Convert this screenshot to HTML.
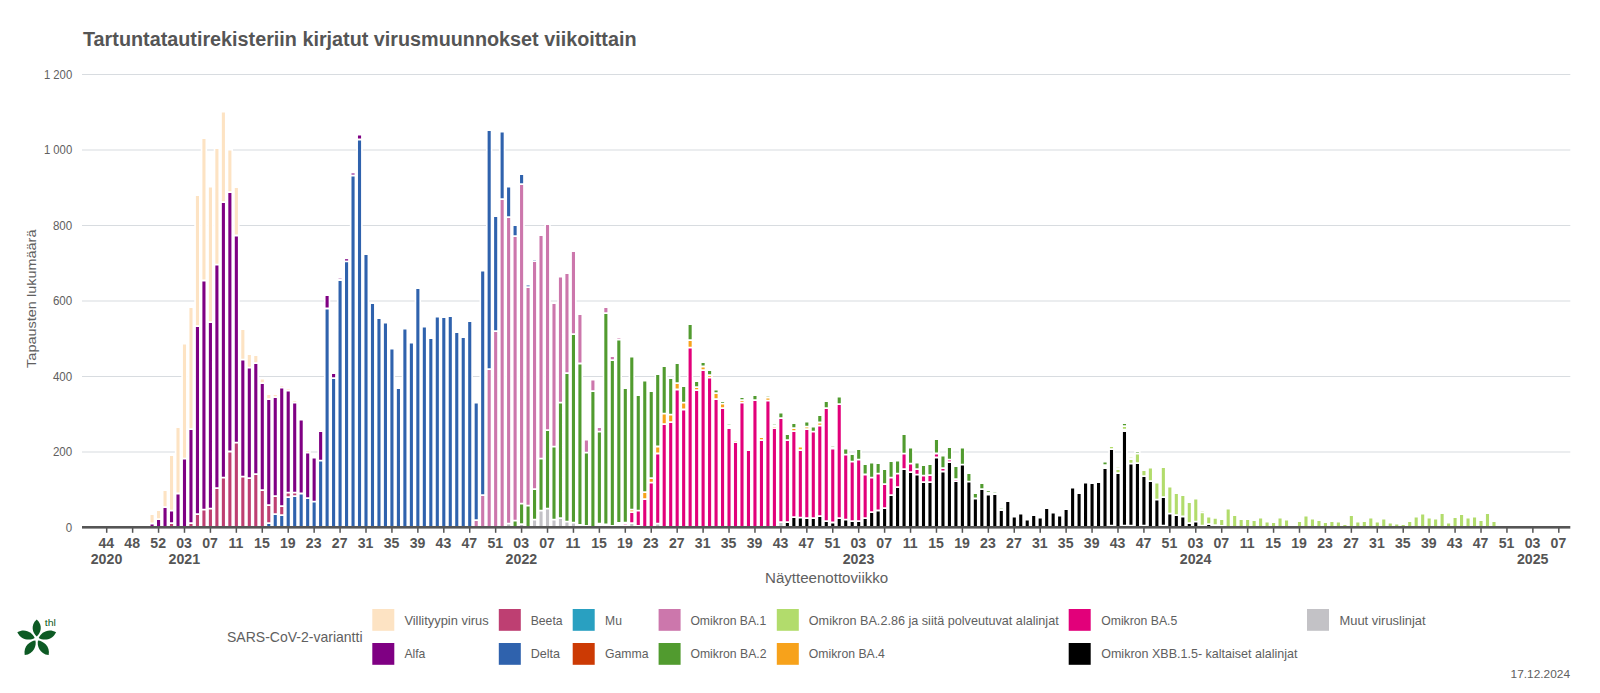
<!DOCTYPE html><html lang="fi"><head><meta charset="utf-8"><title>Tartuntatautirekisteriin kirjatut virusmuunnokset viikoittain</title>
<style>html,body{margin:0;padding:0;background:#fff}body{width:1600px;height:693px;overflow:hidden}svg{display:block}text{font-family:"Liberation Sans",sans-serif}</style></head><body>
<svg width="1600" height="693" viewBox="0 0 1600 693">
<rect width="1600" height="693" fill="#fff"/>
<rect x="82" y="74.00" width="1488.3" height="1" fill="#d8dce0"/>
<text x="43.9" y="78.7" font-size="12.4" fill="#606060" textLength="28.3" lengthAdjust="spacingAndGlyphs">1 200</text>
<rect x="82" y="149.50" width="1488.3" height="1" fill="#d8dce0"/>
<text x="43.9" y="154.2" font-size="12.4" fill="#606060" textLength="28.3" lengthAdjust="spacingAndGlyphs">1 000</text>
<rect x="82" y="225.00" width="1488.3" height="1" fill="#d8dce0"/>
<text x="52.9" y="229.7" font-size="12.4" fill="#606060" textLength="19.3" lengthAdjust="spacingAndGlyphs">800</text>
<rect x="82" y="300.50" width="1488.3" height="1" fill="#d8dce0"/>
<text x="52.9" y="305.2" font-size="12.4" fill="#606060" textLength="19.3" lengthAdjust="spacingAndGlyphs">600</text>
<rect x="82" y="376.00" width="1488.3" height="1" fill="#d8dce0"/>
<text x="52.9" y="380.7" font-size="12.4" fill="#606060" textLength="19.3" lengthAdjust="spacingAndGlyphs">400</text>
<rect x="82" y="451.50" width="1488.3" height="1" fill="#d8dce0"/>
<text x="52.9" y="456.2" font-size="12.4" fill="#606060" textLength="19.3" lengthAdjust="spacingAndGlyphs">200</text>
<text x="65.8" y="531.7" font-size="12.4" fill="#606060" textLength="6.4" lengthAdjust="spacingAndGlyphs">0</text>
<path fill="#fff" d="M148.88,513.3h6.4V527h-6.4zM155.36,509.3h6.4V527h-6.4zM161.84,489.3h6.4V527h-6.4zM168.33,454.3h6.4V527h-6.4zM174.81,426.3h6.4V527h-6.4zM181.29,342.9h6.4V527h-6.4zM187.77,306.3h6.4V527h-6.4zM194.26,194.3h6.4V527h-6.4zM200.74,137.3h6.4V527h-6.4zM207.22,185.7h6.4V527h-6.4zM213.70,147.3h6.4V527h-6.4zM220.19,110.8h6.4V527h-6.4zM226.67,148.9h6.4V527h-6.4zM233.15,186.3h6.4V527h-6.4zM239.63,328.3h6.4V527h-6.4zM246.12,353.3h6.4V527h-6.4zM252.60,354.3h6.4V527h-6.4zM259.08,377.9h6.4V527h-6.4zM265.56,393.3h6.4V527h-6.4zM272.05,393.3h6.4V527h-6.4zM278.53,384.3h6.4V527h-6.4zM285.01,387.3h6.4V527h-6.4zM291.50,399.3h6.4V527h-6.4zM297.98,418.9h6.4V527h-6.4zM304.46,449.3h6.4V527h-6.4zM310.94,456.7h6.4V527h-6.4zM317.43,428.3h6.4V527h-6.4zM323.91,294.3h6.4V527h-6.4zM330.39,372.3h6.4V527h-6.4zM336.87,276.7h6.4V527h-6.4zM343.36,257.6h6.4V527h-6.4zM349.84,171.9h6.4V527h-6.4zM356.32,133.9h6.4V527h-6.4zM362.80,253.3h6.4V527h-6.4zM369.29,302.3h6.4V527h-6.4zM375.77,317.3h6.4V527h-6.4zM382.25,321.9h6.4V527h-6.4zM388.73,347.9h6.4V527h-6.4zM395.22,387.3h6.4V527h-6.4zM401.70,327.7h6.4V527h-6.4zM408.18,341.9h6.4V527h-6.4zM414.66,287.3h6.4V527h-6.4zM421.15,325.7h6.4V527h-6.4zM427.63,337.3h6.4V527h-6.4zM434.11,315.9h6.4V527h-6.4zM440.60,316.3h6.4V527h-6.4zM447.08,315.3h6.4V527h-6.4zM453.56,331.3h6.4V527h-6.4zM460.04,336.3h6.4V527h-6.4zM466.53,320.3h6.4V527h-6.4zM473.01,401.9h6.4V527h-6.4zM479.49,269.7h6.4V527h-6.4zM485.97,129.3h6.4V527h-6.4zM492.46,215.3h6.4V527h-6.4zM498.94,130.9h6.4V527h-6.4zM505.42,185.9h6.4V527h-6.4zM511.90,224.3h6.4V527h-6.4zM518.39,173.3h6.4V527h-6.4zM524.87,283.9h6.4V527h-6.4zM531.35,258.3h6.4V527h-6.4zM537.83,234.3h6.4V527h-6.4zM544.32,223.3h6.4V527h-6.4zM550.80,302.3h6.4V527h-6.4zM557.28,275.7h6.4V527h-6.4zM563.76,272.3h6.4V527h-6.4zM570.25,250.3h6.4V527h-6.4zM576.73,313.3h6.4V527h-6.4zM583.21,438.9h6.4V527h-6.4zM589.70,378.7h6.4V527h-6.4zM596.18,426.3h6.4V527h-6.4zM602.66,306.3h6.4V527h-6.4zM609.14,355.3h6.4V527h-6.4zM615.63,336.3h6.4V527h-6.4zM622.11,387.3h6.4V527h-6.4zM628.59,355.7h6.4V527h-6.4zM635.07,394.3h6.4V527h-6.4zM641.56,379.7h6.4V527h-6.4zM648.04,390.3h6.4V527h-6.4zM654.52,373.3h6.4V527h-6.4zM661.00,365.3h6.4V527h-6.4zM667.49,377.3h6.4V527h-6.4zM673.97,362.3h6.4V527h-6.4zM680.45,385.3h6.4V527h-6.4zM686.93,323.3h6.4V527h-6.4zM693.42,380.3h6.4V527h-6.4zM699.90,361.3h6.4V527h-6.4zM706.38,369.3h6.4V527h-6.4zM712.86,388.7h6.4V527h-6.4zM719.35,400.3h6.4V527h-6.4zM725.83,422.7h6.4V527h-6.4zM732.31,439.3h6.4V527h-6.4zM738.79,396.3h6.4V527h-6.4zM745.28,449.3h6.4V527h-6.4zM751.76,394.3h6.4V527h-6.4zM758.24,436.3h6.4V527h-6.4zM764.73,394.7h6.4V527h-6.4zM771.21,422.3h6.4V527h-6.4zM777.69,411.9h6.4V527h-6.4zM784.17,433.3h6.4V527h-6.4zM790.66,422.3h6.4V527h-6.4zM797.14,445.9h6.4V527h-6.4zM803.62,420.7h6.4V527h-6.4zM810.10,425.7h6.4V527h-6.4zM816.59,414.3h6.4V527h-6.4zM823.07,400.3h6.4V527h-6.4zM829.55,444.3h6.4V527h-6.4zM836.03,395.7h6.4V527h-6.4zM842.52,447.9h6.4V527h-6.4zM849.00,453.3h6.4V527h-6.4zM855.48,448.3h6.4V527h-6.4zM861.96,463.3h6.4V527h-6.4zM868.45,461.9h6.4V527h-6.4zM874.93,462.3h6.4V527h-6.4zM881.41,468.3h6.4V527h-6.4zM887.89,460.3h6.4V527h-6.4zM894.38,459.7h6.4V527h-6.4zM900.86,433.3h6.4V527h-6.4zM907.34,446.9h6.4V527h-6.4zM913.83,461.9h6.4V527h-6.4zM920.31,464.3h6.4V527h-6.4zM926.79,463.3h6.4V527h-6.4zM933.27,438.3h6.4V527h-6.4zM939.76,454.9h6.4V527h-6.4zM946.24,446.3h6.4V527h-6.4zM952.72,465.3h6.4V527h-6.4zM959.20,446.9h6.4V527h-6.4zM965.69,472.3h6.4V527h-6.4zM972.17,492.3h6.4V527h-6.4zM978.65,482.3h6.4V527h-6.4zM985.13,489.3h6.4V527h-6.4zM991.62,490.3h6.4V527h-6.4zM998.10,506.7h6.4V527h-6.4zM1004.58,500.3h6.4V527h-6.4zM1011.06,515.9h6.4V527h-6.4zM1017.55,512.9h6.4V527h-6.4zM1024.03,518.9h6.4V527h-6.4zM1030.51,514.3h6.4V527h-6.4zM1036.99,516.9h6.4V527h-6.4zM1043.48,507.3h6.4V527h-6.4zM1049.96,511.9h6.4V527h-6.4zM1056.44,514.7h6.4V527h-6.4zM1062.92,508.3h6.4V527h-6.4zM1069.41,486.9h6.4V527h-6.4zM1075.89,492.3h6.4V527h-6.4zM1082.37,481.9h6.4V527h-6.4zM1088.86,482.3h6.4V527h-6.4zM1095.34,481.3h6.4V527h-6.4zM1101.82,460.9h6.4V527h-6.4zM1108.30,445.3h6.4V527h-6.4zM1114.79,465.7h6.4V527h-6.4zM1121.27,422.3h6.4V527h-6.4zM1127.75,455.7h6.4V527h-6.4zM1134.23,450.3h6.4V527h-6.4zM1140.72,469.3h6.4V527h-6.4zM1147.20,466.7h6.4V527h-6.4zM1153.68,481.9h6.4V527h-6.4zM1160.16,466.3h6.4V527h-6.4zM1166.65,485.7h6.4V527h-6.4zM1173.13,492.3h6.4V527h-6.4zM1179.61,494.3h6.4V527h-6.4zM1186.09,501.3h6.4V527h-6.4zM1192.58,497.9h6.4V527h-6.4zM1199.06,509.5h6.4V527h-6.4zM1205.54,515.7h6.4V527h-6.4zM1212.02,517.1h6.4V527h-6.4zM1218.51,518.2h6.4V527h-6.4zM1224.99,507.9h6.4V527h-6.4zM1231.47,514.3h6.4V527h-6.4zM1237.96,518.3h6.4V527h-6.4zM1244.44,518.3h6.4V527h-6.4zM1250.92,519.3h6.4V527h-6.4zM1257.40,516.9h6.4V527h-6.4zM1263.89,520.7h6.4V527h-6.4zM1270.37,521.3h6.4V527h-6.4zM1276.85,516.8h6.4V527h-6.4zM1283.33,518.8h6.4V527h-6.4zM1296.30,520.3h6.4V527h-6.4zM1302.78,514.8h6.4V527h-6.4zM1309.26,517.7h6.4V527h-6.4zM1315.75,519.3h6.4V527h-6.4zM1322.23,521.3h6.4V527h-6.4zM1328.71,520.3h6.4V527h-6.4zM1335.19,520.9h6.4V527h-6.4zM1341.68,523.3h6.4V527h-6.4zM1348.16,514.3h6.4V527h-6.4zM1354.64,520.7h6.4V527h-6.4zM1361.12,520.3h6.4V527h-6.4zM1367.61,516.9h6.4V527h-6.4zM1374.09,520.9h6.4V527h-6.4zM1380.57,517.7h6.4V527h-6.4zM1387.05,521.7h6.4V527h-6.4zM1393.54,522.7h6.4V527h-6.4zM1400.02,523.3h6.4V527h-6.4zM1406.50,520.3h6.4V527h-6.4zM1412.99,515.7h6.4V527h-6.4zM1419.47,512.7h6.4V527h-6.4zM1425.95,516.9h6.4V527h-6.4zM1432.43,517.7h6.4V527h-6.4zM1438.92,512.3h6.4V527h-6.4zM1445.40,521.9h6.4V527h-6.4zM1451.88,516.3h6.4V527h-6.4zM1458.36,513.3h6.4V527h-6.4zM1464.85,516.9h6.4V527h-6.4zM1471.33,515.7h6.4V527h-6.4zM1477.81,519.3h6.4V527h-6.4zM1484.29,512.3h6.4V527h-6.4zM1490.78,520.3h6.4V527h-6.4z"/>
<path fill="#fde3c3" d="M150.53,515.0h3.1v7.6h-3.1zM157.01,511.0h3.1v7.2h-3.1zM163.49,491.0h3.1v15.2h-3.1zM169.98,456.0h3.1v53.8h-3.1zM176.46,428.0h3.1v64.6h-3.1zM182.94,344.6h3.1v113.2h-3.1zM189.42,308.0h3.1v120.2h-3.1zM195.91,196.0h3.1v129.2h-3.1zM202.39,139.0h3.1v140.6h-3.1zM208.87,187.4h3.1v133.8h-3.1zM215.35,149.0h3.1v114.8h-3.1zM221.84,112.5h3.1v88.7h-3.1zM228.32,150.6h3.1v40.6h-3.1zM234.8,188.0h3.1v46.6h-3.1zM241.28,330.0h3.1v28.8h-3.1zM247.77,355.0h3.1v11.8h-3.1zM254.25,356.0h3.1v6.2h-3.1zM260.73,379.6h3.1v2.6h-3.1zM267.21,395.0h3.1v3.2h-3.1zM273.7,395.0h3.1v1.2h-3.1zM280.18,386.0h3.1v0.6h-3.1zM286.66,389.0h3.1v0.6h-3.1zM293.15,401.0h3.1v0.8h-3.1zM306.11,451.0h3.1v0.8h-3.1zM319.08,430.0h3.1v0.3h-3.1z"/>
<path fill="#7f0083" d="M150.53,524.4h3.1v2.6h-3.1zM157.01,520.0h3.1v7.0h-3.1zM163.49,508.0h3.1v19.0h-3.1zM169.98,511.6h3.1v10.6h-3.1zM176.46,494.4h3.1v32.6h-3.1zM182.94,459.6h3.1v67.4h-3.1zM189.42,430.0h3.1v92.2h-3.1zM195.91,327.0h3.1v186.2h-3.1zM202.39,281.4h3.1v227.4h-3.1zM208.87,323.0h3.1v184.8h-3.1zM215.35,265.6h3.1v221.6h-3.1zM221.84,203.0h3.1v273.8h-3.1zM228.32,193.0h3.1v257.6h-3.1zM234.8,236.4h3.1v205.4h-3.1zM241.28,360.6h3.1v115.2h-3.1zM247.77,368.6h3.1v108.6h-3.1zM254.25,364.0h3.1v109.2h-3.1zM260.73,384.0h3.1v105.2h-3.1zM267.21,400.0h3.1v104.2h-3.1zM273.7,398.0h3.1v97.2h-3.1zM280.18,388.4h3.1v116.8h-3.1zM286.66,391.4h3.1v100.4h-3.1zM293.15,403.6h3.1v88.2h-3.1zM299.63,420.6h3.1v72.0h-3.1zM306.11,453.6h3.1v43.6h-3.1zM312.59,458.4h3.1v42.4h-3.1zM319.08,432.0h3.1v27.8h-3.1zM325.56,296.0h3.1v11.6h-3.1zM332.04,374.0h3.1v3.2h-3.1zM338.52,278.4h3.1v0.3h-3.1zM345.01,259.3h3.1v1.1h-3.1zM351.49,173.6h3.1v1.0h-3.1zM357.97,135.6h3.1v3.0h-3.1z"/>
<path fill="#be3f72" d="M169.98,524.0h3.1v3.0h-3.1zM189.42,524.0h3.1v3.0h-3.1zM195.91,515.0h3.1v12.0h-3.1zM202.39,510.6h3.1v16.4h-3.1zM208.87,509.6h3.1v17.4h-3.1zM215.35,489.0h3.1v38.0h-3.1zM221.84,478.6h3.1v48.4h-3.1zM228.32,452.4h3.1v74.6h-3.1zM234.8,443.6h3.1v83.4h-3.1zM241.28,477.6h3.1v49.4h-3.1zM247.77,479.0h3.1v48.0h-3.1zM254.25,475.0h3.1v52.0h-3.1zM260.73,491.0h3.1v36.0h-3.1zM267.21,506.0h3.1v16.2h-3.1zM273.7,497.0h3.1v16.2h-3.1zM280.18,507.0h3.1v7.2h-3.1zM286.66,493.6h3.1v2.6h-3.1zM293.15,493.6h3.1v1.6h-3.1z"/>
<path fill="#2f62ad" d="M267.21,524.0h3.1v3.0h-3.1zM273.7,515.0h3.1v12.0h-3.1zM280.18,516.0h3.1v11.0h-3.1zM286.66,498.0h3.1v29.0h-3.1zM293.15,497.0h3.1v30.0h-3.1zM299.63,494.4h3.1v32.6h-3.1zM306.11,499.0h3.1v28.0h-3.1zM312.59,502.6h3.1v24.4h-3.1zM319.08,461.6h3.1v65.4h-3.1zM325.56,309.4h3.1v217.6h-3.1zM332.04,379.0h3.1v148.0h-3.1zM338.52,281.0h3.1v246.0h-3.1zM345.01,262.2h3.1v264.8h-3.1zM351.49,176.4h3.1v350.6h-3.1zM357.97,140.4h3.1v386.6h-3.1zM364.45,255.0h3.1v272.0h-3.1zM370.94,304.0h3.1v223.0h-3.1zM377.42,319.0h3.1v208.0h-3.1zM383.9,323.6h3.1v203.4h-3.1zM390.38,349.6h3.1v177.4h-3.1zM396.87,389.0h3.1v138.0h-3.1zM403.35,329.4h3.1v197.6h-3.1zM409.83,343.6h3.1v183.4h-3.1zM416.31,289.0h3.1v238.0h-3.1zM422.8,327.4h3.1v199.6h-3.1zM429.28,339.0h3.1v188.0h-3.1zM435.76,317.6h3.1v209.4h-3.1zM442.25,318.0h3.1v209.0h-3.1zM448.73,317.0h3.1v210.0h-3.1zM455.21,333.0h3.1v194.0h-3.1zM461.69,338.0h3.1v189.0h-3.1zM468.18,322.0h3.1v205.0h-3.1zM474.66,403.6h3.1v115.6h-3.1zM481.14,271.4h3.1v222.8h-3.1zM487.62,131.0h3.1v237.2h-3.1zM494.11,217.0h3.1v113.2h-3.1zM500.59,132.6h3.1v65.6h-3.1zM507.07,187.6h3.1v28.6h-3.1zM513.55,226.0h3.1v9.2h-3.1zM520.04,175.0h3.1v8.2h-3.1zM526.52,285.6h3.1v0.6h-3.1zM533.0,260.0h3.1v0.3h-3.1z"/>
<path fill="#cc77ac" d="M474.66,521.0h3.1v6.0h-3.1zM481.14,496.0h3.1v31.0h-3.1zM487.62,370.0h3.1v157.0h-3.1zM494.11,332.0h3.1v195.0h-3.1zM500.59,200.0h3.1v327.0h-3.1zM507.07,218.0h3.1v304.7h-3.1zM513.55,237.0h3.1v282.8h-3.1zM520.04,185.0h3.1v317.8h-3.1zM526.52,288.0h3.1v216.8h-3.1zM533.0,262.0h3.1v226.2h-3.1zM539.48,236.0h3.1v221.8h-3.1zM545.97,225.0h3.1v204.2h-3.1zM552.45,304.0h3.1v141.8h-3.1zM558.93,277.4h3.1v124.4h-3.1zM565.41,274.0h3.1v98.2h-3.1zM571.9,252.0h3.1v81.2h-3.1zM578.38,315.0h3.1v47.6h-3.1zM584.86,440.6h3.1v11.2h-3.1zM591.35,380.4h3.1v9.8h-3.1zM597.83,428.0h3.1v2.8h-3.1zM604.31,308.0h3.1v4.2h-3.1zM610.79,357.0h3.1v2.2h-3.1zM617.28,338.0h3.1v0.6h-3.1z"/>
<path fill="#519b2f" d="M513.55,521.6h3.1v5.4h-3.1zM520.04,504.6h3.1v18.6h-3.1zM526.52,506.6h3.1v20.4h-3.1zM533.0,490.0h3.1v28.8h-3.1zM539.48,459.6h3.1v50.2h-3.1zM545.97,431.0h3.1v76.8h-3.1zM552.45,447.6h3.1v71.2h-3.1zM558.93,403.6h3.1v113.6h-3.1zM565.41,374.0h3.1v146.8h-3.1zM571.9,335.0h3.1v186.8h-3.1zM578.38,364.4h3.1v159.6h-3.1zM584.86,453.6h3.1v71.4h-3.1zM591.35,392.0h3.1v135.0h-3.1zM597.83,432.6h3.1v90.2h-3.1zM604.31,314.0h3.1v209.5h-3.1zM610.79,361.0h3.1v164.0h-3.1zM617.28,340.4h3.1v181.6h-3.1zM623.76,389.0h3.1v132.8h-3.1zM630.24,357.4h3.1v151.3h-3.1zM636.72,396.0h3.1v113.8h-3.1zM643.21,381.4h3.1v109.8h-3.1zM649.69,392.0h3.1v85.2h-3.1zM656.17,375.0h3.1v70.6h-3.1zM662.65,367.0h3.1v45.8h-3.1zM669.14,379.0h3.1v34.8h-3.1zM675.62,364.0h3.1v18.2h-3.1zM682.1,387.0h3.1v14.8h-3.1zM688.58,325.0h3.1v14.2h-3.1zM695.07,382.0h3.1v4.2h-3.1zM701.55,363.0h3.1v2.6h-3.1zM708.03,371.0h3.1v3.2h-3.1zM714.51,390.4h3.1v1.8h-3.1zM721.0,402.0h3.1v0.7h-3.1zM727.48,424.4h3.1v0.4h-3.1zM740.44,398.0h3.1v1.2h-3.1zM753.41,396.0h3.1v3.2h-3.1zM766.38,396.4h3.1v0.4h-3.1zM772.86,424.0h3.1v0.3h-3.1zM779.34,413.6h3.1v3.6h-3.1zM785.82,435.0h3.1v4.2h-3.1zM792.31,424.0h3.1v3.2h-3.1zM805.27,422.4h3.1v3.4h-3.1zM811.75,427.4h3.1v3.4h-3.1zM818.24,416.0h3.1v5.6h-3.1zM824.72,402.0h3.1v5.2h-3.1zM831.2,446.0h3.1v0.3h-3.1zM837.68,397.4h3.1v5.8h-3.1zM844.17,449.6h3.1v4.2h-3.1zM850.65,455.0h3.1v5.8h-3.1zM857.13,450.0h3.1v8.8h-3.1zM863.61,465.0h3.1v8.6h-3.1zM870.1,463.6h3.1v13.2h-3.1zM876.58,464.0h3.1v8.8h-3.1zM883.06,470.0h3.1v13.2h-3.1zM889.54,462.0h3.1v14.8h-3.1zM896.03,461.4h3.1v11.4h-3.1zM902.51,435.0h3.1v17.8h-3.1zM908.99,448.6h3.1v14.2h-3.1zM915.48,463.6h3.1v4.6h-3.1zM921.96,466.0h3.1v8.8h-3.1zM928.44,465.0h3.1v9.2h-3.1zM934.92,440.0h3.1v12.6h-3.1zM941.41,456.6h3.1v10.6h-3.1zM947.89,448.0h3.1v10.8h-3.1zM954.37,467.0h3.1v11.2h-3.1zM960.85,448.6h3.1v15.2h-3.1zM967.34,474.0h3.1v6.8h-3.1zM973.82,494.0h3.1v3.6h-3.1zM980.3,484.0h3.1v4.2h-3.1zM986.78,491.0h3.1v0.8h-3.1zM993.27,492.0h3.1v0.3h-3.1zM999.75,508.4h3.1v0.3h-3.1zM1103.47,462.6h3.1v1.6h-3.1zM1122.92,424.0h3.1v1.2h-3.1zM1135.88,452.0h3.1v0.6h-3.1z"/>
<path fill="#b2dc6c" d="M1109.95,447.0h3.1v1.2h-3.1zM1116.44,467.4h3.1v0.3h-3.1zM1116.44,470.0h3.1v2.2h-3.1zM1122.92,427.0h3.1v1.7h-3.1zM1129.4,457.4h3.1v0.3h-3.1zM1129.4,460.0h3.1v2.8h-3.1zM1135.88,454.4h3.1v7.8h-3.1zM1142.37,471.0h3.1v4.2h-3.1zM1148.85,468.4h3.1v11.8h-3.1zM1155.33,483.6h3.1v15.2h-3.1zM1161.81,468.0h3.1v28.2h-3.1zM1168.3,487.4h3.1v25.4h-3.1zM1174.78,494.0h3.1v20.2h-3.1zM1181.26,496.0h3.1v19.6h-3.1zM1187.74,503.0h3.1v19.2h-3.1zM1194.23,499.6h3.1v21.2h-3.1zM1200.71,511.2h3.1v0.3h-3.1zM1200.71,513.2h3.1v11.5h-3.1zM1207.19,517.4h3.1v5.8h-3.1zM1213.67,518.8h3.1v5.4h-3.1zM1220.16,519.9h3.1v5.1h-3.1zM1226.64,509.6h3.1v17.4h-3.1zM1233.12,516.0h3.1v11.0h-3.1zM1239.61,520.0h3.1v7.0h-3.1zM1246.09,520.0h3.1v7.0h-3.1zM1252.57,521.0h3.1v6.0h-3.1zM1259.05,518.6h3.1v8.4h-3.1zM1265.54,522.4h3.1v4.6h-3.1zM1272.02,523.0h3.1v4.0h-3.1zM1278.5,518.5h3.1v8.5h-3.1zM1284.98,520.5h3.1v6.5h-3.1zM1297.95,522.0h3.1v5.0h-3.1zM1304.43,516.5h3.1v10.5h-3.1zM1310.91,519.4h3.1v7.6h-3.1zM1317.4,521.0h3.1v6.0h-3.1zM1323.88,523.0h3.1v4.0h-3.1zM1330.36,522.0h3.1v5.0h-3.1zM1336.84,522.6h3.1v4.4h-3.1zM1343.33,525.0h3.1v2.0h-3.1zM1349.81,516.0h3.1v11.0h-3.1zM1356.29,522.4h3.1v4.6h-3.1zM1362.77,522.0h3.1v5.0h-3.1zM1369.26,518.6h3.1v8.4h-3.1zM1375.74,522.6h3.1v4.4h-3.1zM1382.22,519.4h3.1v7.6h-3.1zM1388.7,523.4h3.1v3.6h-3.1zM1395.19,524.4h3.1v2.6h-3.1zM1401.67,525.0h3.1v2.0h-3.1zM1408.15,522.0h3.1v5.0h-3.1zM1414.64,517.4h3.1v9.6h-3.1zM1421.12,514.4h3.1v12.6h-3.1zM1427.6,518.6h3.1v8.4h-3.1zM1434.08,519.4h3.1v7.6h-3.1zM1440.57,514.0h3.1v13.0h-3.1zM1447.05,523.6h3.1v3.4h-3.1zM1453.53,518.0h3.1v9.0h-3.1zM1460.01,515.0h3.1v12.0h-3.1zM1466.5,518.6h3.1v8.4h-3.1zM1472.98,517.4h3.1v9.6h-3.1zM1479.46,521.0h3.1v6.0h-3.1zM1485.94,514.0h3.1v13.0h-3.1zM1492.43,522.0h3.1v5.0h-3.1z"/>
<path fill="#f7a21b" d="M630.24,510.5h3.1v0.7h-3.1zM643.21,493.0h3.1v5.2h-3.1zM649.69,479.0h3.1v2.8h-3.1zM656.17,447.4h3.1v5.2h-3.1zM662.65,414.6h3.1v8.6h-3.1zM669.14,415.6h3.1v5.6h-3.1zM675.62,384.0h3.1v4.6h-3.1zM682.1,403.6h3.1v5.0h-3.1zM688.58,341.0h3.1v5.8h-3.1zM695.07,388.0h3.1v1.2h-3.1zM701.55,367.4h3.1v1.8h-3.1zM708.03,376.0h3.1v0.8h-3.1zM714.51,394.0h3.1v4.2h-3.1zM721.0,404.5h3.1v2.7h-3.1zM733.96,441.0h3.1v0.3h-3.1zM740.44,401.0h3.1v0.8h-3.1zM759.89,438.0h3.1v1.2h-3.1zM766.38,398.6h3.1v1.2h-3.1zM772.86,427.0h3.1v0.3h-3.1zM792.31,429.0h3.1v1.2h-3.1zM798.79,447.6h3.1v1.6h-3.1zM805.27,427.6h3.1v0.6h-3.1zM818.24,423.4h3.1v1.4h-3.1z"/>
<path fill="#e2007a" d="M623.76,524.2h3.1v0.3h-3.1zM630.24,513.0h3.1v9.2h-3.1zM636.72,511.6h3.1v13.4h-3.1zM643.21,500.0h3.1v27.0h-3.1zM649.69,483.6h3.1v43.4h-3.1zM656.17,454.4h3.1v68.3h-3.1zM662.65,425.0h3.1v102.0h-3.1zM669.14,423.0h3.1v104.0h-3.1zM675.62,390.4h3.1v136.6h-3.1zM682.1,410.4h3.1v116.6h-3.1zM688.58,348.6h3.1v178.4h-3.1zM695.07,391.0h3.1v136.0h-3.1zM701.55,371.0h3.1v156.0h-3.1zM708.03,378.6h3.1v148.4h-3.1zM714.51,400.0h3.1v127.0h-3.1zM721.0,409.0h3.1v118.0h-3.1zM727.48,429.0h3.1v98.0h-3.1zM733.96,443.0h3.1v84.0h-3.1zM740.44,403.6h3.1v123.4h-3.1zM746.93,451.0h3.1v76.0h-3.1zM753.41,401.0h3.1v126.0h-3.1zM759.89,441.0h3.1v86.0h-3.1zM766.38,401.6h3.1v125.4h-3.1zM772.86,429.0h3.1v98.0h-3.1zM779.34,419.0h3.1v102.2h-3.1zM785.82,441.0h3.1v80.2h-3.1zM792.31,432.0h3.1v84.2h-3.1zM798.79,451.0h3.1v65.8h-3.1zM805.27,430.0h3.1v87.2h-3.1zM811.75,432.6h3.1v84.6h-3.1zM818.24,426.6h3.1v88.6h-3.1zM824.72,409.0h3.1v111.2h-3.1zM831.2,449.4h3.1v72.2h-3.1zM837.68,405.0h3.1v112.2h-3.1zM844.17,455.6h3.1v63.2h-3.1zM850.65,462.6h3.1v57.6h-3.1zM857.13,460.6h3.1v59.6h-3.1zM863.61,475.4h3.1v41.8h-3.1zM870.1,478.6h3.1v32.6h-3.1zM876.58,474.6h3.1v35.0h-3.1zM883.06,485.0h3.1v22.2h-3.1zM889.54,478.6h3.1v15.6h-3.1zM896.03,474.6h3.1v11.6h-3.1zM902.51,454.6h3.1v13.6h-3.1zM908.99,464.6h3.1v6.6h-3.1zM915.48,470.0h3.1v3.8h-3.1zM921.96,476.6h3.1v4.6h-3.1zM928.44,476.0h3.1v5.2h-3.1zM934.92,454.4h3.1v2.2h-3.1zM941.41,469.0h3.1v1.6h-3.1zM947.89,460.6h3.1v0.6h-3.1zM954.37,480.0h3.1v0.3h-3.1z"/>
<path fill="#000000" d="M785.82,523.0h3.1v4.0h-3.1zM792.31,518.0h3.1v9.0h-3.1zM798.79,518.6h3.1v8.4h-3.1zM805.27,519.0h3.1v8.0h-3.1zM811.75,519.0h3.1v8.0h-3.1zM818.24,517.0h3.1v10.0h-3.1zM824.72,522.0h3.1v5.0h-3.1zM831.2,523.4h3.1v3.6h-3.1zM837.68,519.0h3.1v8.0h-3.1zM844.17,520.6h3.1v6.4h-3.1zM850.65,522.0h3.1v5.0h-3.1zM857.13,522.0h3.1v5.0h-3.1zM863.61,519.0h3.1v8.0h-3.1zM870.1,513.0h3.1v14.0h-3.1zM876.58,511.4h3.1v15.6h-3.1zM883.06,509.0h3.1v18.0h-3.1zM889.54,496.0h3.1v31.0h-3.1zM896.03,488.0h3.1v39.0h-3.1zM902.51,470.0h3.1v57.0h-3.1zM908.99,473.0h3.1v54.0h-3.1zM915.48,475.6h3.1v51.4h-3.1zM921.96,483.0h3.1v44.0h-3.1zM928.44,483.0h3.1v44.0h-3.1zM934.92,458.4h3.1v68.6h-3.1zM941.41,472.4h3.1v54.6h-3.1zM947.89,463.0h3.1v64.0h-3.1zM954.37,482.0h3.1v45.0h-3.1zM960.85,465.6h3.1v61.4h-3.1zM967.34,482.6h3.1v44.4h-3.1zM973.82,499.4h3.1v27.6h-3.1zM980.3,490.0h3.1v37.0h-3.1zM986.78,495.6h3.1v31.4h-3.1zM993.27,495.0h3.1v32.0h-3.1zM999.75,511.0h3.1v16.0h-3.1zM1006.23,502.0h3.1v25.0h-3.1zM1012.71,517.6h3.1v9.4h-3.1zM1019.2,514.6h3.1v12.4h-3.1zM1025.68,520.6h3.1v6.4h-3.1zM1032.16,516.0h3.1v11.0h-3.1zM1038.64,518.6h3.1v8.4h-3.1zM1045.13,509.0h3.1v18.0h-3.1zM1051.61,513.6h3.1v13.4h-3.1zM1058.09,516.4h3.1v10.6h-3.1zM1064.57,510.0h3.1v17.0h-3.1zM1071.06,488.6h3.1v38.4h-3.1zM1077.54,494.0h3.1v33.0h-3.1zM1084.02,483.6h3.1v43.4h-3.1zM1090.51,484.0h3.1v43.0h-3.1zM1096.99,483.0h3.1v44.0h-3.1zM1103.47,469.0h3.1v58.0h-3.1zM1109.95,450.0h3.1v74.7h-3.1zM1116.44,474.0h3.1v53.0h-3.1zM1122.92,432.0h3.1v92.7h-3.1zM1129.4,464.6h3.1v60.1h-3.1zM1135.88,464.0h3.1v63.0h-3.1zM1142.37,477.0h3.1v47.7h-3.1zM1148.85,482.0h3.1v45.0h-3.1zM1155.33,500.6h3.1v26.4h-3.1zM1161.81,498.0h3.1v26.7h-3.1zM1168.3,514.6h3.1v12.4h-3.1zM1174.78,516.0h3.1v11.0h-3.1zM1181.26,517.4h3.1v9.6h-3.1zM1187.74,524.0h3.1v3.0h-3.1zM1194.23,522.6h3.1v4.4h-3.1zM1207.19,525.0h3.1v2.0h-3.1z"/>
<path fill="#c3c2c6" d="M507.07,524.5h3.1v2.5h-3.1zM520.04,525.0h3.1v2.0h-3.1zM533.0,520.6h3.1v6.4h-3.1zM539.48,511.6h3.1v15.4h-3.1zM545.97,509.6h3.1v17.4h-3.1zM552.45,520.6h3.1v6.4h-3.1zM558.93,519.0h3.1v8.0h-3.1zM565.41,522.6h3.1v4.4h-3.1zM571.9,523.6h3.1v3.4h-3.1zM630.24,524.0h3.1v3.0h-3.1zM656.17,524.5h3.1v2.5h-3.1zM779.34,523.0h3.1v4.0h-3.1zM1200.71,526.5h3.1v0.5h-3.1z"/>
<rect x="82" y="526" width="1488.3" height="2.6" fill="#555"/>
<rect x="105.95" y="528" width="1.5" height="4.8" fill="#555"/>
<text x="106.3" y="547.6" text-anchor="middle" font-size="14.1" font-weight="bold" fill="#555">44</text>
<text x="106.5" y="563.9" text-anchor="middle" font-size="14.2" font-weight="bold" fill="#555">2020</text>
<rect x="131.88" y="528" width="1.5" height="4.8" fill="#555"/>
<text x="132.2" y="547.6" text-anchor="middle" font-size="14.1" font-weight="bold" fill="#555">48</text>
<rect x="157.81" y="528" width="1.5" height="4.8" fill="#555"/>
<text x="158.2" y="547.6" text-anchor="middle" font-size="14.1" font-weight="bold" fill="#555">52</text>
<rect x="183.74" y="528" width="1.5" height="4.8" fill="#555"/>
<text x="184.1" y="547.6" text-anchor="middle" font-size="14.1" font-weight="bold" fill="#555">03</text>
<text x="184.3" y="563.9" text-anchor="middle" font-size="14.2" font-weight="bold" fill="#555">2021</text>
<rect x="209.67" y="528" width="1.5" height="4.8" fill="#555"/>
<text x="210.0" y="547.6" text-anchor="middle" font-size="14.1" font-weight="bold" fill="#555">07</text>
<rect x="235.60" y="528" width="1.5" height="4.8" fill="#555"/>
<text x="236.0" y="547.6" text-anchor="middle" font-size="14.1" font-weight="bold" fill="#555">11</text>
<rect x="261.53" y="528" width="1.5" height="4.8" fill="#555"/>
<text x="261.9" y="547.6" text-anchor="middle" font-size="14.1" font-weight="bold" fill="#555">15</text>
<rect x="287.46" y="528" width="1.5" height="4.8" fill="#555"/>
<text x="287.8" y="547.6" text-anchor="middle" font-size="14.1" font-weight="bold" fill="#555">19</text>
<rect x="313.39" y="528" width="1.5" height="4.8" fill="#555"/>
<text x="313.7" y="547.6" text-anchor="middle" font-size="14.1" font-weight="bold" fill="#555">23</text>
<rect x="339.32" y="528" width="1.5" height="4.8" fill="#555"/>
<text x="339.7" y="547.6" text-anchor="middle" font-size="14.1" font-weight="bold" fill="#555">27</text>
<rect x="365.25" y="528" width="1.5" height="4.8" fill="#555"/>
<text x="365.6" y="547.6" text-anchor="middle" font-size="14.1" font-weight="bold" fill="#555">31</text>
<rect x="391.18" y="528" width="1.5" height="4.8" fill="#555"/>
<text x="391.5" y="547.6" text-anchor="middle" font-size="14.1" font-weight="bold" fill="#555">35</text>
<rect x="417.11" y="528" width="1.5" height="4.8" fill="#555"/>
<text x="417.5" y="547.6" text-anchor="middle" font-size="14.1" font-weight="bold" fill="#555">39</text>
<rect x="443.05" y="528" width="1.5" height="4.8" fill="#555"/>
<text x="443.4" y="547.6" text-anchor="middle" font-size="14.1" font-weight="bold" fill="#555">43</text>
<rect x="468.98" y="528" width="1.5" height="4.8" fill="#555"/>
<text x="469.3" y="547.6" text-anchor="middle" font-size="14.1" font-weight="bold" fill="#555">47</text>
<rect x="494.91" y="528" width="1.5" height="4.8" fill="#555"/>
<text x="495.3" y="547.6" text-anchor="middle" font-size="14.1" font-weight="bold" fill="#555">51</text>
<rect x="520.84" y="528" width="1.5" height="4.8" fill="#555"/>
<text x="521.2" y="547.6" text-anchor="middle" font-size="14.1" font-weight="bold" fill="#555">03</text>
<text x="521.4" y="563.9" text-anchor="middle" font-size="14.2" font-weight="bold" fill="#555">2022</text>
<rect x="546.77" y="528" width="1.5" height="4.8" fill="#555"/>
<text x="547.1" y="547.6" text-anchor="middle" font-size="14.1" font-weight="bold" fill="#555">07</text>
<rect x="572.70" y="528" width="1.5" height="4.8" fill="#555"/>
<text x="573.0" y="547.6" text-anchor="middle" font-size="14.1" font-weight="bold" fill="#555">11</text>
<rect x="598.63" y="528" width="1.5" height="4.8" fill="#555"/>
<text x="599.0" y="547.6" text-anchor="middle" font-size="14.1" font-weight="bold" fill="#555">15</text>
<rect x="624.56" y="528" width="1.5" height="4.8" fill="#555"/>
<text x="624.9" y="547.6" text-anchor="middle" font-size="14.1" font-weight="bold" fill="#555">19</text>
<rect x="650.49" y="528" width="1.5" height="4.8" fill="#555"/>
<text x="650.8" y="547.6" text-anchor="middle" font-size="14.1" font-weight="bold" fill="#555">23</text>
<rect x="676.42" y="528" width="1.5" height="4.8" fill="#555"/>
<text x="676.8" y="547.6" text-anchor="middle" font-size="14.1" font-weight="bold" fill="#555">27</text>
<rect x="702.35" y="528" width="1.5" height="4.8" fill="#555"/>
<text x="702.7" y="547.6" text-anchor="middle" font-size="14.1" font-weight="bold" fill="#555">31</text>
<rect x="728.28" y="528" width="1.5" height="4.8" fill="#555"/>
<text x="728.6" y="547.6" text-anchor="middle" font-size="14.1" font-weight="bold" fill="#555">35</text>
<rect x="754.21" y="528" width="1.5" height="4.8" fill="#555"/>
<text x="754.6" y="547.6" text-anchor="middle" font-size="14.1" font-weight="bold" fill="#555">39</text>
<rect x="780.14" y="528" width="1.5" height="4.8" fill="#555"/>
<text x="780.5" y="547.6" text-anchor="middle" font-size="14.1" font-weight="bold" fill="#555">43</text>
<rect x="806.07" y="528" width="1.5" height="4.8" fill="#555"/>
<text x="806.4" y="547.6" text-anchor="middle" font-size="14.1" font-weight="bold" fill="#555">47</text>
<rect x="832.00" y="528" width="1.5" height="4.8" fill="#555"/>
<text x="832.4" y="547.6" text-anchor="middle" font-size="14.1" font-weight="bold" fill="#555">51</text>
<rect x="857.93" y="528" width="1.5" height="4.8" fill="#555"/>
<text x="858.3" y="547.6" text-anchor="middle" font-size="14.1" font-weight="bold" fill="#555">03</text>
<text x="858.5" y="563.9" text-anchor="middle" font-size="14.2" font-weight="bold" fill="#555">2023</text>
<rect x="883.86" y="528" width="1.5" height="4.8" fill="#555"/>
<text x="884.2" y="547.6" text-anchor="middle" font-size="14.1" font-weight="bold" fill="#555">07</text>
<rect x="909.79" y="528" width="1.5" height="4.8" fill="#555"/>
<text x="910.1" y="547.6" text-anchor="middle" font-size="14.1" font-weight="bold" fill="#555">11</text>
<rect x="935.72" y="528" width="1.5" height="4.8" fill="#555"/>
<text x="936.1" y="547.6" text-anchor="middle" font-size="14.1" font-weight="bold" fill="#555">15</text>
<rect x="961.65" y="528" width="1.5" height="4.8" fill="#555"/>
<text x="962.0" y="547.6" text-anchor="middle" font-size="14.1" font-weight="bold" fill="#555">19</text>
<rect x="987.58" y="528" width="1.5" height="4.8" fill="#555"/>
<text x="987.9" y="547.6" text-anchor="middle" font-size="14.1" font-weight="bold" fill="#555">23</text>
<rect x="1013.51" y="528" width="1.5" height="4.8" fill="#555"/>
<text x="1013.9" y="547.6" text-anchor="middle" font-size="14.1" font-weight="bold" fill="#555">27</text>
<rect x="1039.44" y="528" width="1.5" height="4.8" fill="#555"/>
<text x="1039.8" y="547.6" text-anchor="middle" font-size="14.1" font-weight="bold" fill="#555">31</text>
<rect x="1065.37" y="528" width="1.5" height="4.8" fill="#555"/>
<text x="1065.7" y="547.6" text-anchor="middle" font-size="14.1" font-weight="bold" fill="#555">35</text>
<rect x="1091.31" y="528" width="1.5" height="4.8" fill="#555"/>
<text x="1091.7" y="547.6" text-anchor="middle" font-size="14.1" font-weight="bold" fill="#555">39</text>
<rect x="1117.24" y="528" width="1.5" height="4.8" fill="#555"/>
<text x="1117.6" y="547.6" text-anchor="middle" font-size="14.1" font-weight="bold" fill="#555">43</text>
<rect x="1143.17" y="528" width="1.5" height="4.8" fill="#555"/>
<text x="1143.5" y="547.6" text-anchor="middle" font-size="14.1" font-weight="bold" fill="#555">47</text>
<rect x="1169.10" y="528" width="1.5" height="4.8" fill="#555"/>
<text x="1169.4" y="547.6" text-anchor="middle" font-size="14.1" font-weight="bold" fill="#555">51</text>
<rect x="1195.03" y="528" width="1.5" height="4.8" fill="#555"/>
<text x="1195.4" y="547.6" text-anchor="middle" font-size="14.1" font-weight="bold" fill="#555">03</text>
<text x="1195.6" y="563.9" text-anchor="middle" font-size="14.2" font-weight="bold" fill="#555">2024</text>
<rect x="1220.96" y="528" width="1.5" height="4.8" fill="#555"/>
<text x="1221.3" y="547.6" text-anchor="middle" font-size="14.1" font-weight="bold" fill="#555">07</text>
<rect x="1246.89" y="528" width="1.5" height="4.8" fill="#555"/>
<text x="1247.2" y="547.6" text-anchor="middle" font-size="14.1" font-weight="bold" fill="#555">11</text>
<rect x="1272.82" y="528" width="1.5" height="4.8" fill="#555"/>
<text x="1273.2" y="547.6" text-anchor="middle" font-size="14.1" font-weight="bold" fill="#555">15</text>
<rect x="1298.75" y="528" width="1.5" height="4.8" fill="#555"/>
<text x="1299.1" y="547.6" text-anchor="middle" font-size="14.1" font-weight="bold" fill="#555">19</text>
<rect x="1324.68" y="528" width="1.5" height="4.8" fill="#555"/>
<text x="1325.0" y="547.6" text-anchor="middle" font-size="14.1" font-weight="bold" fill="#555">23</text>
<rect x="1350.61" y="528" width="1.5" height="4.8" fill="#555"/>
<text x="1351.0" y="547.6" text-anchor="middle" font-size="14.1" font-weight="bold" fill="#555">27</text>
<rect x="1376.54" y="528" width="1.5" height="4.8" fill="#555"/>
<text x="1376.9" y="547.6" text-anchor="middle" font-size="14.1" font-weight="bold" fill="#555">31</text>
<rect x="1402.47" y="528" width="1.5" height="4.8" fill="#555"/>
<text x="1402.8" y="547.6" text-anchor="middle" font-size="14.1" font-weight="bold" fill="#555">35</text>
<rect x="1428.40" y="528" width="1.5" height="4.8" fill="#555"/>
<text x="1428.8" y="547.6" text-anchor="middle" font-size="14.1" font-weight="bold" fill="#555">39</text>
<rect x="1454.33" y="528" width="1.5" height="4.8" fill="#555"/>
<text x="1454.7" y="547.6" text-anchor="middle" font-size="14.1" font-weight="bold" fill="#555">43</text>
<rect x="1480.26" y="528" width="1.5" height="4.8" fill="#555"/>
<text x="1480.6" y="547.6" text-anchor="middle" font-size="14.1" font-weight="bold" fill="#555">47</text>
<rect x="1506.19" y="528" width="1.5" height="4.8" fill="#555"/>
<text x="1506.5" y="547.6" text-anchor="middle" font-size="14.1" font-weight="bold" fill="#555">51</text>
<rect x="1532.12" y="528" width="1.5" height="4.8" fill="#555"/>
<text x="1532.5" y="547.6" text-anchor="middle" font-size="14.1" font-weight="bold" fill="#555">03</text>
<text x="1532.7" y="563.9" text-anchor="middle" font-size="14.2" font-weight="bold" fill="#555">2025</text>
<rect x="1558.05" y="528" width="1.5" height="4.8" fill="#555"/>
<text x="1558.4" y="547.6" text-anchor="middle" font-size="14.1" font-weight="bold" fill="#555">07</text>
<text id="title" x="83" y="45.7" font-size="19.5" font-weight="bold" fill="#555" textLength="553.5" lengthAdjust="spacingAndGlyphs">Tartuntatautirekisteriin kirjatut virusmuunnokset viikoittain</text>
<text id="ytitle" transform="translate(35.6,367.9) rotate(-90)" font-size="13.6" fill="#606060" textLength="138.4" lengthAdjust="spacingAndGlyphs">Tapausten lukumäärä</text>
<text id="xtitle" x="765" y="582.8" font-size="14" fill="#606060" textLength="123.2" lengthAdjust="spacingAndGlyphs">Näytteenottoviikko</text>
<text id="ltitle" x="227" y="642.3" font-size="14.2" fill="#606060" textLength="135.5" lengthAdjust="spacingAndGlyphs">SARS-CoV-2-variantti</text>
<rect x="372.3" y="609" width="22" height="21.8" fill="#fde3c3"/>
<text class="leg" x="404.4" y="624.9" font-size="12.1" fill="#606060" textLength="84.3" lengthAdjust="spacingAndGlyphs">Villityypin virus</text>
<rect x="372.3" y="643" width="22" height="21.8" fill="#7f0083"/>
<text class="leg" x="404.4" y="658.0" font-size="12.1" fill="#606060" textLength="21.0" lengthAdjust="spacingAndGlyphs">Alfa</text>
<rect x="498.8" y="609" width="22" height="21.8" fill="#be3f72"/>
<text class="leg" x="530.7" y="624.9" font-size="12.1" fill="#606060" textLength="31.9" lengthAdjust="spacingAndGlyphs">Beeta</text>
<rect x="498.8" y="643" width="22" height="21.8" fill="#2f62ad"/>
<text class="leg" x="530.7" y="658.0" font-size="12.1" fill="#606060" textLength="29.3" lengthAdjust="spacingAndGlyphs">Delta</text>
<rect x="572.7" y="609" width="22" height="21.8" fill="#29a0c1"/>
<text class="leg" x="605" y="624.9" font-size="12.1" fill="#606060" textLength="16.9" lengthAdjust="spacingAndGlyphs">Mu</text>
<rect x="572.7" y="643" width="22" height="21.8" fill="#cc3a04"/>
<text class="leg" x="605" y="658.0" font-size="12.1" fill="#606060" textLength="43.5" lengthAdjust="spacingAndGlyphs">Gamma</text>
<rect x="658.6" y="609" width="22" height="21.8" fill="#cc77ac"/>
<text class="leg" x="690.4" y="624.9" font-size="12.1" fill="#606060" textLength="75.9" lengthAdjust="spacingAndGlyphs">Omikron BA.1</text>
<rect x="658.6" y="643" width="22" height="21.8" fill="#519b2f"/>
<text class="leg" x="690.4" y="658.0" font-size="12.1" fill="#606060" textLength="76.1" lengthAdjust="spacingAndGlyphs">Omikron BA.2</text>
<rect x="776.8" y="609" width="22" height="21.8" fill="#b2dc6c"/>
<text class="leg" x="808.8" y="624.9" font-size="12.1" fill="#606060" textLength="249.9" lengthAdjust="spacingAndGlyphs">Omikron BA.2.86 ja siitä polveutuvat alalinjat</text>
<rect x="776.8" y="643" width="22" height="21.8" fill="#f7a21b"/>
<text class="leg" x="808.8" y="658.0" font-size="12.1" fill="#606060" textLength="76.1" lengthAdjust="spacingAndGlyphs">Omikron BA.4</text>
<rect x="1068.7" y="609" width="22" height="21.8" fill="#e2007a"/>
<text class="leg" x="1101.2" y="624.9" font-size="12.1" fill="#606060" textLength="76.1" lengthAdjust="spacingAndGlyphs">Omikron BA.5</text>
<rect x="1068.7" y="643" width="22" height="21.8" fill="#000000"/>
<text class="leg" x="1101.2" y="658.0" font-size="12.1" fill="#606060" textLength="196.3" lengthAdjust="spacingAndGlyphs">Omikron XBB.1.5- kaltaiset alalinjat</text>
<rect x="1307" y="609" width="22" height="21.8" fill="#c3c2c6"/>
<text class="leg" x="1339.5" y="624.9" font-size="12.1" fill="#606060" textLength="86.1" lengthAdjust="spacingAndGlyphs">Muut viruslinjat</text>
<text id="date" x="1510.6" y="678" font-size="11.5" fill="#606060" textLength="59.4" lengthAdjust="spacingAndGlyphs">17.12.2024</text>
<g id="logo" fill="#0d5a24">
<path transform="translate(36.7,638.6) rotate(0)" d="M0,-2.2 C3.9,-5.5 6.8,-12.9 0,-19.0 C-6.8,-12.9 -3.9,-5.5 0,-2.2 Z"/>
<path transform="translate(36.7,638.6) rotate(72)" d="M0,-2.2 C3.9,-5.5 6.8,-13.9 0,-20.4 C-6.8,-13.9 -3.9,-5.5 0,-2.2 Z"/>
<path transform="translate(36.7,638.6) rotate(144)" d="M0,-2.2 C3.9,-5.5 6.8,-13.9 0,-20.4 C-6.8,-13.9 -3.9,-5.5 0,-2.2 Z"/>
<path transform="translate(36.7,638.6) rotate(216)" d="M0,-2.2 C3.9,-5.5 6.8,-13.9 0,-20.4 C-6.8,-13.9 -3.9,-5.5 0,-2.2 Z"/>
<path transform="translate(36.7,638.6) rotate(288)" d="M0,-2.2 C3.9,-5.5 6.8,-13.9 0,-20.4 C-6.8,-13.9 -3.9,-5.5 0,-2.2 Z"/>
<text x="44.7" y="626.2" font-size="9.3" fill="#0d5a24" textLength="11.2" lengthAdjust="spacingAndGlyphs">thl</text>
</g>
</svg></body></html>
